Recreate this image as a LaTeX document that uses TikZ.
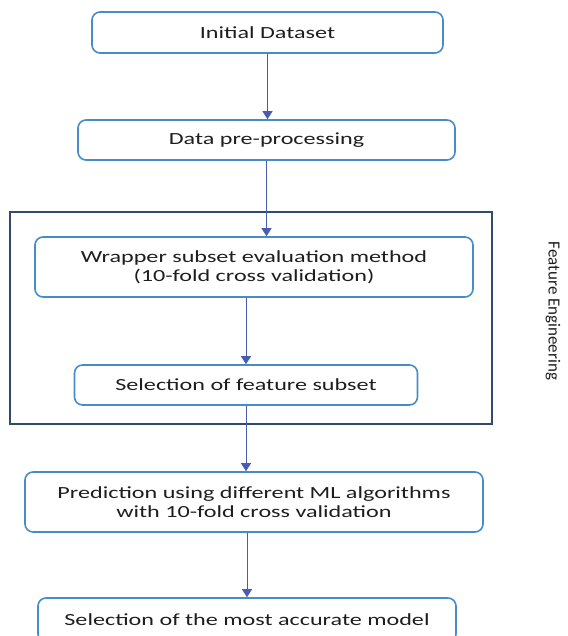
\documentclass[tikz,border=0pt]{standalone}
\usepackage{fontspec}
\usetikzlibrary{arrows.meta}
\newfontfamily\boxfont[FakeStretch=1.42]{Carlito}
\newfontfamily\sidefont{Carlito}
\definecolor{boxblue}{RGB}{70,140,200}
\definecolor{arrblue}{RGB}{72,92,178}
\definecolor{framegray}{RGB}{50,75,105}
\definecolor{txt}{RGB}{30,30,30}

\begin{document}
\begin{tikzpicture}[x=1pt,y=-1pt,
  stepbox/.style={draw=boxblue,line width=1.6pt,rounded corners=8pt,fill=white,
    align=center,text=txt,font=\boxfont\fontsize{17}{19}\selectfont,inner sep=0pt},
  arr/.style={arrblue,line width=1pt,-{Triangle[width=10pt,length=8pt]}}]
\useasboundingbox (0,0) rectangle (567,636);
% feature engineering frame
\node[draw=framegray,line width=1.8pt,minimum width=482,minimum height=212,inner sep=0pt] (fe) at (251,318) {};
\node[rotate=-90,text=txt,font=\sidefont\fontsize{17}{19}\selectfont] (felab) at (553,311) {Feature Engineering};
% steps
\node[stepbox,minimum width=351,minimum height=41] (init) at (267.5,32.5) {Initial Dataset};
\node[stepbox,minimum width=377,minimum height=40] (prep) at (266.5,140) {Data pre-processing};
\node[stepbox,minimum width=438,minimum height=60] (wrap) at (254,267) {Wrapper subset evaluation method\\(10-fold cross validation)};
\node[stepbox,minimum width=343,minimum height=40] (sel) at (246,385) {Selection of feature subset};
\node[stepbox,minimum width=458,minimum height=60] (pred) at (254,502) {Prediction using different ML algorithms\\with 10-fold cross validation};
\node[stepbox,minimum width=418,minimum height=44] (best) at (247,620) {Selection of the most accurate model};
% arrows
\draw[arr] (init.south) -- (init.south |- prep.north);
\draw[arr] (prep.south) -- (prep.south |- wrap.north);
\draw[arr] (sel.north |- wrap.south) -- (sel.north);
\draw[arr] (sel.south) -- (sel.south |- pred.north);
\draw[arr] (best.north |- pred.south) -- (best.north);
\end{tikzpicture}
\end{document}
